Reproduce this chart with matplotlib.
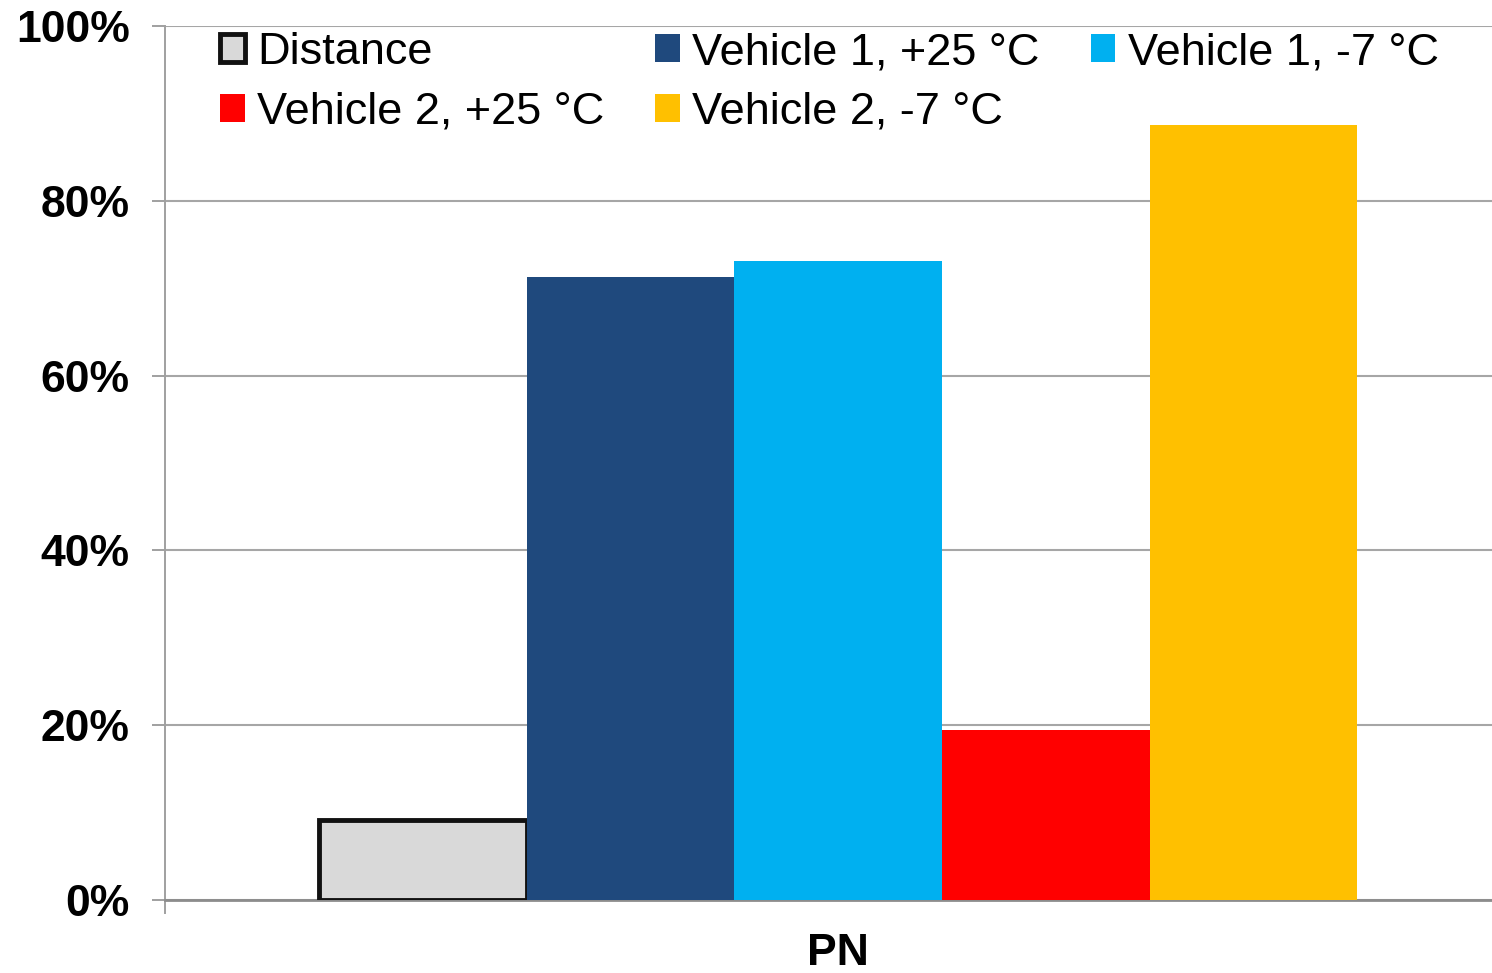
import numpy as np
import matplotlib.pyplot as plt

plt.rcParams['font.family'] = ['Liberation Sans', 'DejaVu Sans']

# data
series = ['Distance', 'Vehicle 1, +25 °C', 'Vehicle 1, -7 °C',
          'Vehicle 2, +25 °C', 'Vehicle 2, -7 °C']
values = [9.1, 71.3, 73.1, 19.5, 88.7]
colors = ['#d9d9d9', '#1f497d', '#00b0f0', '#ff0000', '#ffc000']
category = ['PN']

fig = plt.figure(figsize=(14.92, 9.73), dpi=100)
ax = fig.add_axes([165/1492, 73/973, 1 - 165/1492, (900-26)/973])

w = 0.16
offsets = (np.arange(len(series)) - 2) * w
bars = []
for i, (s, v, c) in enumerate(zip(series, values, colors)):
    if i == 0:
        b = ax.bar(offsets[i], v, w, color=c, edgecolor='#111111', linewidth=3.5, label=s, zorder=3)
    else:
        b = ax.bar(offsets[i], v, w, color=c, label=s, zorder=3)
    bars.append(b)

ax.set_xlim(-0.519, 0.504)
ax.set_ylim(0, 100)
ax.set_yticks(np.arange(0, 101, 20))
ax.set_yticklabels([f'{t}%' for t in range(0, 101, 20)], fontsize=32, fontweight='bold')
ax.set_xticks([0])
ax.set_xticklabels(category, fontsize=32, fontweight='bold')
ax.tick_params(axis='x', length=0, pad=24)
ax.tick_params(axis='y', length=9.5, width=1.4, color='#a0a0a0', pad=16)
ax.yaxis.grid(True, color='#a6a6a6', linewidth=1.5, zorder=0)
ax.set_axisbelow(True)
for sp in ['top', 'right']:
    ax.spines[sp].set_visible(False)
ax.spines['left'].set_color('#a0a0a0')
ax.spines['left'].set_linewidth(1.4)
ax.spines['left'].set_bounds(-1.5, 100)
ax.spines['bottom'].set_color('#8c8c8c')
ax.spines['bottom'].set_linewidth(2)

# legend, row-wise order
order = [0, 3, 1, 4, 2]
handles = [bars[i] for i in order]
labels = [series[i] for i in order]
fig.legend(handles, labels, ncol=3, loc='upper left',
           bbox_to_anchor=(220/1492, 1 - 32/973), frameon=False,
           fontsize=32.5, handlelength=0.55, handleheight=0.55,
           handletextpad=0.27, columnspacing=1.13, labelspacing=0.42,
           borderpad=0, borderaxespad=0)

fig.savefig('out.png', dpi=100)
